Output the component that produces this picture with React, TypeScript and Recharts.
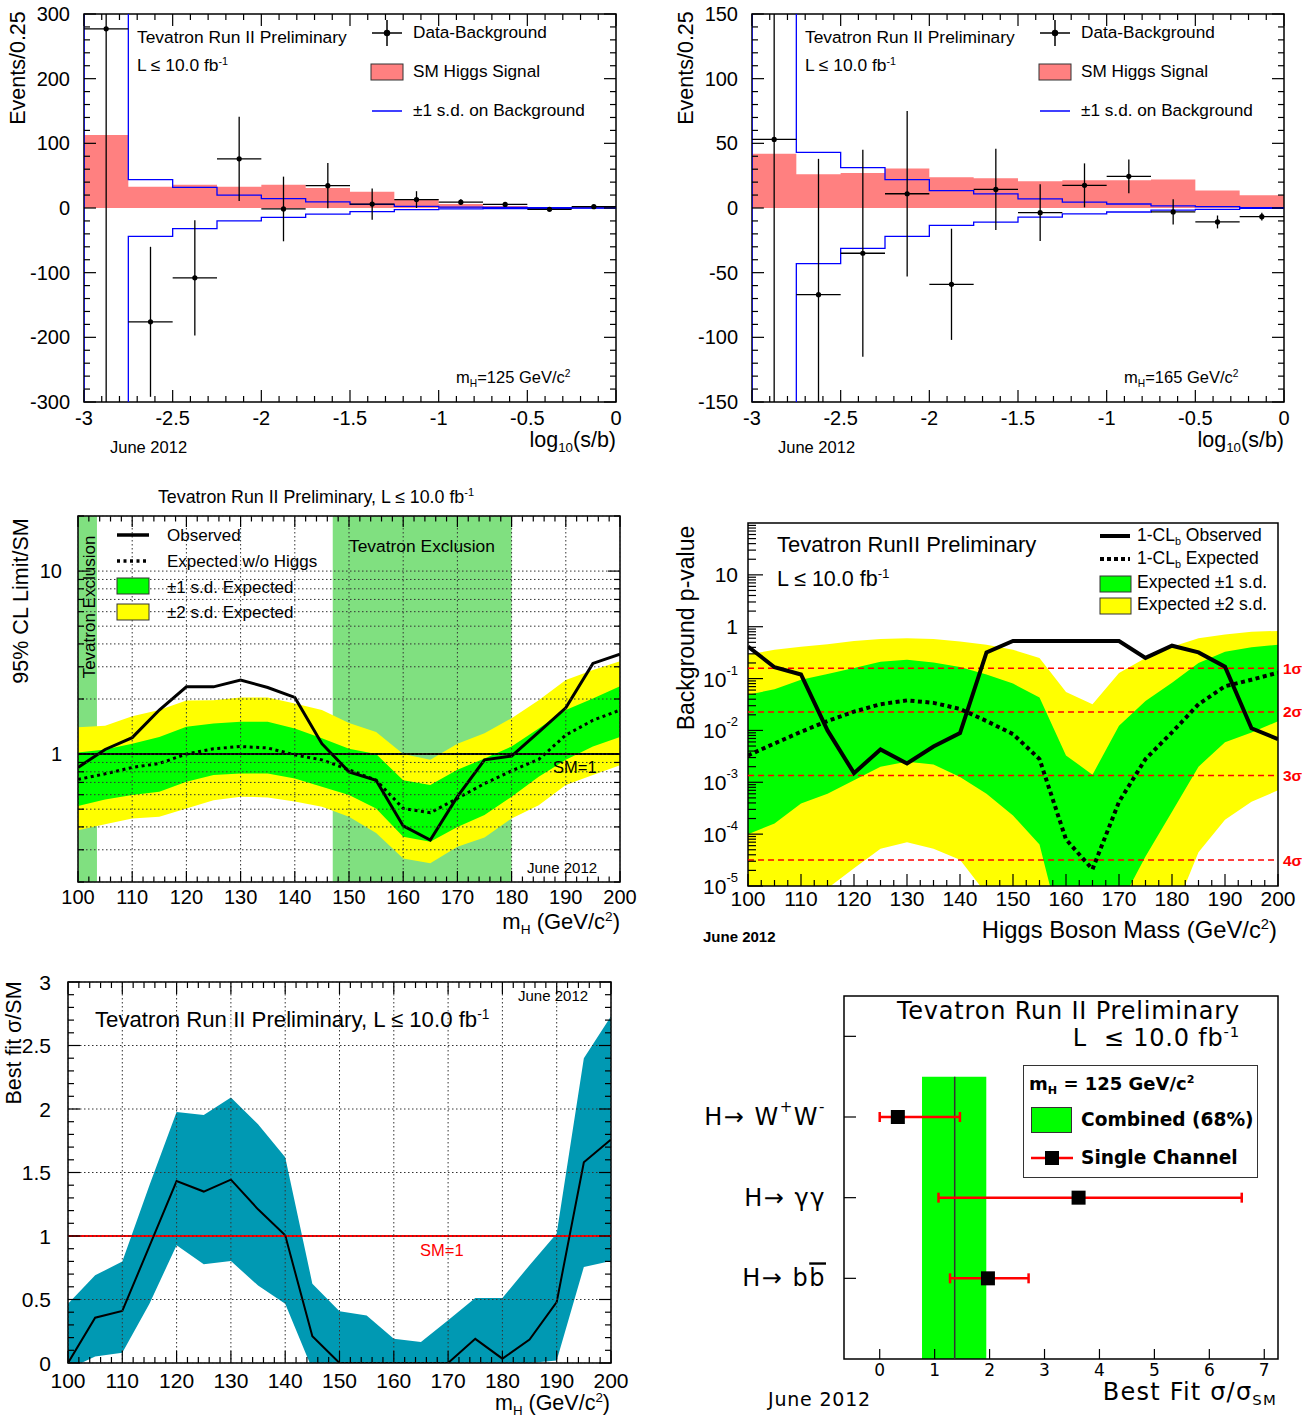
import React from 'react';
import { ComposedChart, XAxis, YAxis, Area, Line, Scatter, ErrorBar, ReferenceArea, ReferenceLine } from 'recharts';

const FONT = '"Liberation Sans", Arial, Helvetica, sans-serif';
const FONT6 = '"DejaVu Sans", Verdana, sans-serif';
const SIG = '#ff8080';
const BLUE = '#0000ff';
const GREEN = '#00ff00';
const YELLOW = '#ffff00';
const EXCL = '#80e080';
const TEAL = '#0099b3';
const RED = '#ff0000';

// ---------------- Panels 1 & 2: log10(s/b) distributions ----------------
const binLowEdges = [-3, -2.75, -2.5, -2.25, -2, -1.75, -1.5, -1.25, -1, -0.75, -0.5, -0.25];
const binUpperEnd = 0;
const binHalf = 0.125;

const sig125 = [113, 33, 36, 33, 36, 31, 25, 14, 6, 3, 1.5, 1];
const bkgSd125 = [480, 44, 32, 20, 14.5, 9.5, 5.5, 2.5, 1.3, 0.9, 0.5, 0.3];
const data125 = [277, -176, -108, 76, -1.5, 34.5, 6, 13, 9, 5.5, -2, 2];
const err125 = [650, 116, 89, 65, 50, 35, 24, 13, 4.5, 3, 2, 2];

const sig165 = [42, 26, 27, 30.6, 23.7, 23, 20.6, 21.4, 21.4, 22, 13.6, 9.8];
const bkgSd165 = [300, 43, 31.2, 22, 13.5, 10.9, 7.1, 4.6, 3.1, 1.7, 1, 0.3];
const data165 = [53, -67, -35, 11, -59, 14.4, -3.6, 17.5, 24.5, -3, -10.8, -6.7];
const err165 = [320, 105, 80, 64, 43, 31.5, 22, 17, 13, 9.7, 5, 3];

// ---------------- Mass scans ----------------
const masses = [100, 105, 110, 115, 120, 125, 130, 135, 140, 145, 150, 155, 160, 165, 170, 175, 180, 185, 190, 195, 200];

// Panel 3: 95% CL limit / SM
const obs3 = [0.845, 1.06, 1.23, 1.74, 2.33, 2.33, 2.54, 2.31, 2.04, 1.14, 0.8, 0.72, 0.405, 0.339, 0.585, 0.93, 0.975, 1.32, 1.79, 3.13, 3.52];
const exp3 = [0.727, 0.78, 0.845, 0.889, 1.0, 1.07, 1.1, 1.08, 0.99, 0.93, 0.82, 0.72, 0.505, 0.478, 0.573, 0.69, 0.81, 0.935, 1.27, 1.53, 1.74];
const p1s3 = [1.02, 1.06, 1.14, 1.24, 1.41, 1.47, 1.5, 1.5, 1.38, 1.22, 1.07, 1.0, 0.72, 0.677, 0.82, 0.946, 1.1, 1.38, 1.74, 2.01, 2.35];
const m1s3 = [0.52, 0.565, 0.597, 0.623, 0.706, 0.768, 0.784, 0.784, 0.736, 0.663, 0.597, 0.505, 0.353, 0.332, 0.4, 0.464, 0.585, 0.752, 0.93, 1.1, 1.24];
const p2s3 = [1.4, 1.43, 1.61, 1.74, 1.96, 1.97, 2.04, 2.04, 1.89, 1.74, 1.48, 1.32, 1.0, 0.93, 1.14, 1.3, 1.57, 1.97, 2.54, 2.88, 3.22];
const m2s3 = [0.384, 0.413, 0.445, 0.455, 0.505, 0.56, 0.585, 0.58, 0.55, 0.515, 0.455, 0.37, 0.269, 0.253, 0.312, 0.35, 0.445, 0.526, 0.677, 0.768, 0.87];
const exclusionRegions = [[100, 103.5], [147, 180]];

// Panel 4: background p-value
const obs4 = [0.415, 0.165, 0.12, 0.01, 0.0015, 0.0043, 0.0023, 0.0049, 0.0089, 0.32, 0.53, 0.53, 0.53, 0.53, 0.53, 0.25, 0.43, 0.32, 0.17, 0.011, 0.0068];
const exp4 = [0.0033, 0.0056, 0.0094, 0.0152, 0.023, 0.032, 0.038, 0.034, 0.026, 0.0152, 0.0085, 0.0028, 7.9e-5, 2.1e-5, 4.2e-4, 0.0028, 0.0092, 0.032, 0.071, 0.095, 0.13];
const p1s4 = [0.049, 0.062, 0.095, 0.123, 0.16, 0.21, 0.23, 0.205, 0.167, 0.12, 0.08, 0.043, 0.0033, 0.0014, 0.0123, 0.037, 0.083, 0.2, 0.33, 0.4, 0.45];
const m1s4 = [1.0e-4, 1.6e-4, 3.9e-4, 6e-4, 1.1e-3, 2.0e-3, 2.5e-3, 2.2e-3, 1.26e-3, 6e-4, 2.3e-4, 6.3e-5, 6e-7, 1e-7, 4e-6, 3.7e-5, 2.7e-4, 2e-3, 5.9e-3, 9.1e-3, 0.015];
const p2s4 = [0.29, 0.36, 0.41, 0.46, 0.53, 0.58, 0.6, 0.58, 0.52, 0.45, 0.36, 0.25, 0.055, 0.032, 0.128, 0.25, 0.41, 0.6, 0.71, 0.8, 0.83];
const m2s4 = [4e-7, 1e-6, 3e-6, 9e-6, 2.2e-5, 5.2e-5, 7e-5, 5.2e-5, 3.2e-5, 7e-6, 1e-6, 3e-7, 1e-7, 1e-7, 1e-7, 3e-7, 2.5e-6, 4.5e-5, 1.9e-4, 4.2e-4, 7e-4];
const sigmaP = [0.1587, 0.02275, 0.00135, 3.167e-5];
const sigmaLabels = ['1σ', '2σ', '3σ', '4σ'];

// Panel 5: best fit sigma/SM
const obs5 = [0, 0.357, 0.41, 0.92, 1.433, 1.35, 1.444, 1.21, 1.005, 0.21, 0, 0, 0, 0, 0, 0.19, 0.034, 0.184, 0.48, 1.58, 1.76];
const up5 = [0.467, 0.69, 0.8, 1.4, 1.976, 1.953, 2.09, 1.88, 1.62, 0.625, 0.407, 0.375, 0.19, 0.165, 0.336, 0.512, 0.512, 0.77, 1.02, 2.4, 2.73];
const lo5 = [-0.05, 0.052, 0.08, 0.467, 0.927, 0.777, 0.803, 0.61, 0.467, -0.05, 0, 0, 0, 0, 0, 0, 0, 0, 0.02, 0.756, 0.803];

// Panel 6: channel best fits at mH = 125
const channels = ['WW', 'gg', 'bb'];
const chFit = [0.33, 3.62, 1.97];
const chErrLo = [0.33, 2.55, 0.69];
const chErrHi = [1.13, 2.97, 0.74];
const combFit = 1.365;
const combLo = 0.77;
const combHi = 1.94;

// ---------------- helpers ----------------
type Geo = { L: number; T: number; W: number; H: number; x0: number; y0: number; x1: number; y1: number };
const G1: Geo = { L: 0, T: 0, W: 650, H: 470, x0: 84, y0: 14, x1: 616, y1: 402 };
const G2: Geo = { L: 650, T: 0, W: 652, H: 470, x0: 752, y0: 14, x1: 1284, y1: 402 };
const G3: Geo = { L: 0, T: 470, W: 650, H: 480, x0: 78, y0: 516, x1: 620, y1: 882 };
const G4: Geo = { L: 650, T: 470, W: 652, H: 480, x0: 748, y0: 523, x1: 1278, y1: 886 };
const G5: Geo = { L: 0, T: 950, W: 650, H: 468, x0: 68, y0: 982, x1: 611, y1: 1363 };
const G6: Geo = { L: 650, T: 950, W: 652, H: 468, x0: 844, y0: 996, x1: 1278, y1: 1359 };

const local = (g: Geo) => ({ x0: g.x0 - g.L, y0: g.y0 - g.T, x1: g.x1 - g.L, y1: g.y1 - g.T });
const marginOf = (g: Geo) => ({ top: g.y0 - g.T, right: g.L + g.W - g.x1, bottom: 0, left: 0 });

const range = (a: number, b: number, step: number) => {
  const out: number[] = [];
  const n = Math.round((b - a) / step);
  for (let i = 0; i <= n; i++) out.push(+(a + i * step).toFixed(6));
  return out;
};
const logTicks = (e0: number, e1: number, lo: number, hi: number) => {
  const out: number[] = [];
  for (let e = e0; e <= e1; e++) for (let k = 1; k <= 9; k++) {
    const v = +(k * Math.pow(10, e)).toPrecision(6);
    if (v >= lo * 0.9999 && v <= hi * 1.0001) out.push(v);
  }
  return out;
};
const near = (a: number, b: number) => Math.abs(a - b) <= 1e-9 + 1e-6 * Math.abs(b);

type TickOpt = {
  g: Geo; majors: number[]; majLen: number; minLen: number; both?: boolean;
  grid?: 'major' | 'all' | false; label?: (v: number) => React.ReactNode;
  size: number; off: number; family?: string; spacing?: number;
};
const GRID = { stroke: '#333', strokeWidth: 1, strokeDasharray: '1.5 2.5' };

function xTick(o: TickOpt) {
  const p = local(o.g);
  return (props: any) => {
    const x = props.x;
    const v = props.payload?.value;
    const maj = o.majors.some((m) => near(v, m));
    const len = maj ? o.majLen : o.minLen;
    const showGrid = o.grid === 'all' || (o.grid === 'major' && maj);
    return (
      <g>
        {showGrid && <line x1={x} x2={x} y1={p.y0} y2={p.y1} {...GRID} />}
        <line x1={x} x2={x} y1={p.y1} y2={p.y1 - len} stroke="#000" strokeWidth={1.2} />
        {o.both && <line x1={x} x2={x} y1={p.y0} y2={p.y0 + len} stroke="#000" strokeWidth={1.2} />}
        {maj && o.label && (
          <text x={x} y={p.y1 + o.off} textAnchor="middle" dominantBaseline="central" fontSize={o.size} fontFamily={o.family || FONT} fill="#000">
            {o.label(v)}
          </text>
        )}
      </g>
    );
  };
}
function yTick(o: TickOpt) {
  const p = local(o.g);
  return (props: any) => {
    const y = props.y;
    const v = props.payload?.value;
    const maj = o.majors.some((m) => near(v, m));
    const len = maj ? o.majLen : o.minLen;
    const showGrid = o.grid === 'all' || (o.grid === 'major' && maj);
    return (
      <g>
        {showGrid && <line x1={p.x0} x2={p.x1} y1={y} y2={y} {...GRID} />}
        <line x1={p.x0} x2={p.x0 + len} y1={y} y2={y} stroke="#000" strokeWidth={1.2} />
        {o.both && <line x1={p.x1} x2={p.x1 - len} y1={y} y2={y} stroke="#000" strokeWidth={1.2} />}
        {maj && o.label && (
          <text x={p.x0 - o.off} y={y} textAnchor="end" dominantBaseline="central" fontSize={o.size} fontFamily={o.family || FONT}
            fill="#000" letterSpacing={o.spacing || 0}>
            {o.label(v)}
          </text>
        )}
      </g>
    );
  };
}

function Txt({ x, y, children, size = 17, anchor = 'start', color = '#000', weight = 400, family = FONT, rotate = false, spacing = 0 }: any) {
  const tx = anchor === 'start' ? '0' : anchor === 'end' ? '-100%' : '-50%';
  return (
    <div
      style={{
        position: 'absolute', left: x, top: y,
        transform: rotate ? 'translate(-50%,-50%) rotate(-90deg)' : `translate(${tx},-50%)`,
        fontSize: size, fontFamily: family, color, fontWeight: weight, whiteSpace: 'nowrap', lineHeight: 1,
        letterSpacing: spacing,
      }}
    >
      {children}
    </div>
  );
}
const Sup = ({ children }: any) => <span style={{ fontSize: '0.62em', position: 'relative', top: '-0.6em' }}>{children}</span>;
const Sub = ({ children }: any) => <span style={{ fontSize: '0.62em', position: 'relative', top: '0.35em' }}>{children}</span>;

const Frame = ({ x, y }: { x: number[]; y: number[] }) => (
  <ReferenceArea x1={x[0]} x2={x[1]} y1={y[0]} y2={y[1]} fill="none" fillOpacity={0} stroke="#000" strokeWidth={1.5} ifOverflow="visible" />
);

const numLabel = (v: number) => String(v);

// ---------------- Panels ----------------
function HistPanel({ g, ylim, yMajorStep, yMinorStep, sig, sd, dat, err, mass }: any) {
  const dx = g.x0 - 84;
  const sigArea = [...binLowEdges.map((x, i) => ({ x, v: sig[i] })), { x: binUpperEnd, v: sig[sig.length - 1] }];
  const band = (s: number) => [
    { x: binLowEdges[0], v: 0 },
    ...binLowEdges.map((x, i) => ({ x, v: s * sd[i] })),
    { x: binUpperEnd, v: s * sd[sd.length - 1] },
  ];
  const pts = binLowEdges.map((x, i) => ({
    x: x + binHalf, y: dat[i], ex: binHalf,
    ey: [Math.min(err[i], dat[i] - ylim[0]), Math.min(err[i], ylim[1] - dat[i])],
  }));
  const xt = range(-3, 0, 0.1);
  const xMaj = range(-3, 0, 0.5);
  const yt = range(ylim[0], ylim[1], yMinorStep);
  const yMaj = range(ylim[0], ylim[1], yMajorStep);
  return (
    <>
      <div style={{ position: 'absolute', left: g.L, top: g.T }}>
        <ComposedChart width={g.W} height={g.H} margin={marginOf(g)}>
          <Area data={sigArea} dataKey="v" type="stepAfter" fill={SIG} fillOpacity={1} stroke="none" baseValue={0} isAnimationActive={false} />
          <Line data={band(1)} dataKey="v" type="stepAfter" stroke={BLUE} strokeWidth={1.3} dot={false} isAnimationActive={false} />
          <Line data={band(-1)} dataKey="v" type="stepAfter" stroke={BLUE} strokeWidth={1.3} dot={false} isAnimationActive={false} />
          <Scatter data={pts} dataKey="y" isAnimationActive={false} shape={(p: any) => <circle cx={p.cx} cy={p.cy} r={2.6} fill="#000" />}>
            <ErrorBar dataKey="ey" direction="y" width={0} stroke="#000" strokeWidth={1.3} />
            <ErrorBar dataKey="ex" direction="x" width={0} stroke="#000" strokeWidth={1.3} />
          </Scatter>
          {Frame({ x: [-3, 0], y: ylim })}
          <XAxis dataKey="x" type="number" domain={[-3, 0]} allowDataOverflow ticks={xt} interval={0} axisLine={false} tickLine={false}
            height={g.T + g.H - g.y1}
            tick={xTick({ g, majors: xMaj, majLen: 12, minLen: 6, both: true, label: numLabel, size: 20, off: 16 })} />
          <YAxis type="number" domain={ylim} allowDataOverflow ticks={yt} interval={0} axisLine={false} tickLine={false}
            width={g.x0 - g.L}
            tick={yTick({ g, majors: yMaj, majLen: 12, minLen: 6, both: true, label: numLabel, size: 20, off: 14 })} />
        </ComposedChart>
      </div>
      <Txt x={19 + dx} y={68} size={21.5} rotate>Events/0.25</Txt>
      <Txt x={g.x1} y={441} size={21.5} anchor="end">log<Sub>10</Sub>(s/b)</Txt>
      <Txt x={110 + dx} y={447} size={16.5}>June 2012</Txt>
      <Txt x={137 + dx} y={38} size={17.4}>Tevatron Run II Preliminary</Txt>
      <Txt x={137 + dx} y={66} size={17.4}>L ≤ 10.0 fb<Sup>-1</Sup></Txt>
      <Txt x={413 + dx} y={33} size={17.2}>Data-Background</Txt>
      <Txt x={413 + dx} y={72} size={17.2}>SM Higgs Signal</Txt>
      <Txt x={413 + dx} y={111} size={17.2}>±1 s.d. on Background</Txt>
      <Txt x={456 + dx} y={377} size={16.5}>m<Sub>H</Sub>={mass} GeV/c<Sup>2</Sup></Txt>
      <svg style={{ position: 'absolute', left: 0, top: 0, pointerEvents: 'none' }} width={1302} height={470}>
        <line x1={372 + dx} x2={402 + dx} y1={33} y2={33} stroke="#000" strokeWidth={1.5} />
        <line x1={387 + dx} x2={387 + dx} y1={20} y2={46} stroke="#000" strokeWidth={1.5} />
        <circle cx={387 + dx} cy={33} r={3.2} fill="#000" />
        <rect x={371 + dx} y={64} width={32} height={16} fill={SIG} stroke="#333" strokeWidth={1} />
        <line x1={372 + dx} x2={402 + dx} y1={111} y2={111} stroke={BLUE} strokeWidth={1.5} />
      </svg>
    </>
  );
}

function LimitPanel() {
  const g = G3;
  const rows = masses.map((x, i) => ({ x, obs: obs3[i], exp: exp3[i], b1: [m1s3[i], p1s3[i]], b2: [m2s3[i], p2s3[i]] }));
  const ylim = [0.2, 20];
  const yt = logTicks(-1, 1, 0.2, 20);
  return (
    <>
      <div style={{ position: 'absolute', left: g.L, top: g.T }}>
        <ComposedChart width={g.W} height={g.H} margin={marginOf(g)}>
          {exclusionRegions.map((r, i) => (
            <ReferenceArea key={i} x1={r[0]} x2={r[1]} y1={ylim[0]} y2={ylim[1]} fill={EXCL} fillOpacity={1} stroke="none" ifOverflow="visible" />
          ))}
          <Area data={rows} dataKey="b2" type="linear" fill={YELLOW} fillOpacity={1} stroke="none" isAnimationActive={false} />
          <Area data={rows} dataKey="b1" type="linear" fill={GREEN} fillOpacity={1} stroke="none" isAnimationActive={false} />
          <ReferenceLine y={1} stroke="#000" strokeWidth={2} />
          <Line data={rows} dataKey="exp" type="linear" stroke="#000" strokeWidth={3} strokeDasharray="3 3.5" dot={false} isAnimationActive={false} />
          <Line data={rows} dataKey="obs" type="linear" stroke="#000" strokeWidth={3} dot={false} isAnimationActive={false} />
          {Frame({ x: [100, 200], y: ylim })}
          <XAxis dataKey="x" type="number" domain={[100, 200]} allowDataOverflow ticks={range(100, 200, 2)} interval={0} axisLine={false} tickLine={false}
            height={g.T + g.H - g.y1}
            tick={xTick({ g, majors: range(100, 200, 10), majLen: 11, minLen: 5.5, both: true, grid: 'major', label: numLabel, size: 20, off: 15 })} />
          <YAxis type="number" scale="log" domain={ylim} allowDataOverflow ticks={yt} interval={0} axisLine={false} tickLine={false}
            width={g.x0 - g.L}
            tick={yTick({ g, majors: [1, 10], majLen: 12, minLen: 6, both: true, grid: 'all', label: numLabel, size: 20, off: 16 })} />
        </ComposedChart>
      </div>
      <Txt x={316} y={498} size={17.8} anchor="middle">Tevatron Run II Preliminary, L ≤ 10.0 fb<Sup>-1</Sup></Txt>
      <Txt x={22} y={601} size={21.5} rotate>95% CL Limit/SM</Txt>
      <Txt x={620} y={922} size={22} anchor="end">m<Sub>H</Sub> (GeV/c<Sup>2</Sup>)</Txt>
      <Txt x={167} y={535} size={17}>Observed</Txt>
      <Txt x={167} y={561} size={17}>Expected w/o Higgs</Txt>
      <Txt x={167} y={587} size={17}>±1 s.d. Expected</Txt>
      <Txt x={167} y={612} size={17}>±2 s.d. Expected</Txt>
      <Txt x={349} y={547} size={17.4}>Tevatron Exclusion</Txt>
      <Txt x={89} y={607} size={17} rotate>Tevatron Exclusion</Txt>
      <Txt x={553} y={767} size={16.5}>SM=1</Txt>
      <Txt x={527} y={867} size={15}>June 2012</Txt>
      <svg style={{ position: 'absolute', left: 0, top: 470, pointerEvents: 'none' }} width={650} height={480}>
        <line x1={117} x2={149} y1={65} y2={65} stroke="#000" strokeWidth={3.5} />
        <line x1={117} x2={149} y1={91} y2={91} stroke="#000" strokeWidth={3.5} strokeDasharray="3 3.5" />
        <rect x={117} y={108} width={32} height={16} fill={GREEN} stroke="#333" strokeWidth={1} />
        <rect x={117} y={134} width={32} height={16} fill={YELLOW} stroke="#333" strokeWidth={1} />
      </svg>
    </>
  );
}

const powLabel = (v: number) => {
  const e = Math.round(Math.log10(v));
  if (e === 0) return '1';
  if (e === 1) return '10';
  return (
    <>
      <tspan>10</tspan>
      <tspan dy={-9} fontSize={13}>{String(e)}</tspan>
    </>
  );
};

function PValuePanel() {
  const g = G4;
  const rows = masses.map((x, i) => ({ x, obs: obs4[i], exp: exp4[i], b1: [m1s4[i], p1s4[i]], b2: [m2s4[i], p2s4[i]] }));
  const ylim = [1e-5, 100];
  const yt = logTicks(-5, 1, 1e-5, 100);
  const yMaj = [1e-5, 1e-4, 1e-3, 1e-2, 1e-1, 1, 10];
  return (
    <>
      <div style={{ position: 'absolute', left: g.L, top: g.T }}>
        <ComposedChart width={g.W} height={g.H} margin={marginOf(g)}>
          <Area data={rows} dataKey="b2" type="linear" fill={YELLOW} fillOpacity={1} stroke="none" isAnimationActive={false} />
          <Area data={rows} dataKey="b1" type="linear" fill={GREEN} fillOpacity={1} stroke="none" isAnimationActive={false} />
          {sigmaP.map((p, i) => (
            <ReferenceLine key={i} y={p} stroke={RED} strokeWidth={1.5} strokeDasharray="6 4"
              label={{ value: sigmaLabels[i], position: 'right', fill: RED, fontSize: 15.5, fontWeight: 700, fontFamily: FONT, offset: 5 }} />
          ))}
          <Line data={rows} dataKey="exp" type="linear" stroke="#000" strokeWidth={4} strokeDasharray="4 3.5" dot={false} isAnimationActive={false} />
          <Line data={rows} dataKey="obs" type="linear" stroke="#000" strokeWidth={4} dot={false} isAnimationActive={false} />
          {Frame({ x: [100, 200], y: ylim })}
          <XAxis dataKey="x" type="number" domain={[100, 200]} allowDataOverflow ticks={range(100, 200, 2.5)} interval={0} axisLine={false} tickLine={false}
            height={g.T + g.H - g.y1}
            tick={xTick({ g, majors: range(100, 200, 10), majLen: 12, minLen: 6, label: numLabel, size: 21, off: 12 })} />
          <YAxis type="number" scale="log" domain={ylim} allowDataOverflow ticks={yt} interval={0} axisLine={false} tickLine={false}
            width={g.x0 - g.L}
            tick={yTick({ g, majors: yMaj, majLen: 15, minLen: 8, label: powLabel, size: 21, off: 10 })} />
        </ComposedChart>
      </div>
      <Txt x={686} y={628} size={23} rotate>Background p-value</Txt>
      <Txt x={1277} y={930} size={23.8} anchor="end">Higgs Boson Mass (GeV/c<Sup>2</Sup>)</Txt>
      <Txt x={703} y={936} size={15} weight={700}>June 2012</Txt>
      <Txt x={777} y={545} size={22}>Tevatron RunII Preliminary</Txt>
      <Txt x={777} y={580} size={21.5}>L ≤ 10.0 fb<Sup>-1</Sup></Txt>
      <Txt x={1137} y={536} size={17.5}>1-CL<Sub>b</Sub> Observed</Txt>
      <Txt x={1137} y={559} size={17.5}>1-CL<Sub>b</Sub> Expected</Txt>
      <Txt x={1137} y={583} size={17.5}>Expected ±1 s.d.</Txt>
      <Txt x={1137} y={605} size={17.5}>Expected ±2 s.d.</Txt>
      <svg style={{ position: 'absolute', left: 650, top: 470, pointerEvents: 'none' }} width={652} height={480}>
        <line x1={450} x2={480} y1={66} y2={66} stroke="#000" strokeWidth={4} />
        <line x1={450} x2={480} y1={89} y2={89} stroke="#000" strokeWidth={4} strokeDasharray="4 3" />
        <rect x={450} y={106} width={31} height={16} fill={GREEN} stroke="#333" strokeWidth={1} />
        <rect x={450} y={128} width={31} height={16} fill={YELLOW} stroke="#333" strokeWidth={1} />
      </svg>
    </>
  );
}

function BestFitPanel() {
  const g = G5;
  const rows = masses.map((x, i) => ({ x, obs: obs5[i], band: [lo5[i], up5[i]] }));
  const ylim = [0, 3];
  return (
    <>
      <div style={{ position: 'absolute', left: g.L, top: g.T }}>
        <ComposedChart width={g.W} height={g.H} margin={marginOf(g)}>
          <Area data={rows} dataKey="band" type="linear" fill={TEAL} fillOpacity={1} stroke="none" isAnimationActive={false} />
          <ReferenceLine y={1} stroke={RED} strokeWidth={2} />
          <Line data={rows} dataKey="obs" type="linear" stroke="#000" strokeWidth={2} dot={false} isAnimationActive={false} />
          {Frame({ x: [100, 200], y: ylim })}
          <XAxis dataKey="x" type="number" domain={[100, 200]} allowDataOverflow ticks={range(100, 200, 2)} interval={0} axisLine={false} tickLine={false}
            height={g.T + g.H - g.y1}
            tick={xTick({ g, majors: range(100, 200, 10), majLen: 12, minLen: 6, both: true, grid: 'major', label: numLabel, size: 21, off: 17 })} />
          <YAxis type="number" domain={ylim} allowDataOverflow ticks={range(0, 3, 0.1)} interval={0} axisLine={false} tickLine={false}
            width={g.x0 - g.L}
            tick={yTick({ g, majors: range(0, 3, 0.5), majLen: 12, minLen: 6, both: true, grid: 'major', label: numLabel, size: 21, off: 17 })} />
        </ComposedChart>
      </div>
      <Txt x={15} y={1043} size={21.5} rotate>Best fit σ/SM</Txt>
      <Txt x={610} y={1404} size={21.5} anchor="end">m<Sub>H</Sub> (GeV/c<Sup>2</Sup>)</Txt>
      <Txt x={518} y={995} size={15}>June 2012</Txt>
      <Txt x={95} y={1020} size={22.2}>Tevatron Run II Preliminary, L ≤ 10.0 fb<Sup>-1</Sup></Txt>
      <Txt x={420} y={1250} size={16.5} color={RED}>SM=1</Txt>
    </>
  );
}

const chLabel = (name: string) => {
  if (name === 'WW') return (<><tspan>H→ W</tspan><tspan dy={-10} fontSize={15}>+</tspan><tspan dy={10}>W</tspan><tspan dy={-10} fontSize={15}>-</tspan></>);
  if (name === 'gg') return 'H→ γγ';
  return (<><tspan>H→ b</tspan><tspan style={{ textDecoration: 'overline' }}>b</tspan></>);
};

function ChannelPanel() {
  const g = G6;
  const n = channels.length;
  const pts = channels.map((c, i) => ({ x: chFit[i], y: n - i, err: [chErrLo[i], chErrHi[i]] }));
  const ylim = [0, n + 1.5];
  const xlim = [-0.65, 7.25];
  const yTicksAll = range(1, n + 1, 1);
  const labelFor = (v: number) => {
    const idx = n - Math.round(v);
    return idx >= 0 && idx < n ? chLabel(channels[idx]) : '';
  };
  return (
    <>
      <div style={{ position: 'absolute', left: g.L, top: g.T }}>
        <ComposedChart width={g.W} height={g.H} margin={marginOf(g)}>
          <ReferenceArea x1={combLo} x2={combHi} y1={0} y2={n + 0.5} fill={GREEN} fillOpacity={1} stroke="none" ifOverflow="visible" />
          <ReferenceLine segment={[{ x: combFit, y: 0 }, { x: combFit, y: n + 0.5 }]} stroke="#333" strokeWidth={1.5} />
          <Scatter data={pts} dataKey="y" isAnimationActive={false} shape={(p: any) => <rect x={p.cx - 7} y={p.cy - 7} width={14} height={14} fill="#000" />}>
            <ErrorBar dataKey="err" direction="x" width={5} stroke={RED} strokeWidth={2.5} />
          </Scatter>
          {Frame({ x: xlim, y: ylim })}
          <XAxis dataKey="x" type="number" domain={xlim} allowDataOverflow ticks={range(0, 7, 1)} interval={0} axisLine={false} tickLine={false}
            height={g.T + g.H - g.y1}
            tick={xTick({ g, majors: range(0, 7, 1), majLen: 10, minLen: 10, label: numLabel, size: 17, off: 11, family: FONT6 })} />
          <YAxis type="number" domain={ylim} allowDataOverflow ticks={yTicksAll} interval={0} axisLine={false} tickLine={false}
            width={g.x0 - g.L}
            tick={yTick({ g, majors: yTicksAll, majLen: 12, minLen: 12, label: labelFor, size: 24, off: 18, family: FONT6, spacing: 1.5 })} />
        </ComposedChart>
      </div>
      <Txt x={1240} y={1011} size={24} anchor="end" family={FONT6} spacing={0.8}>Tevatron Run II Preliminary</Txt>
      <Txt x={1240} y={1038} size={24} anchor="end" family={FONT6} spacing={0.8}>L &nbsp;≤ 10.0 fb<Sup>-1</Sup></Txt>
      <Txt x={1277} y={1392} size={24} anchor="end" family={FONT6} spacing={1.2}>Best Fit σ/σ<Sub>SM</Sub></Txt>
      <Txt x={768} y={1399} size={19} family={FONT6} spacing={0.8}>June 2012</Txt>
      <div style={{ position: 'absolute', left: 1023, top: 1065, width: 235, height: 113, border: '1.5px solid #333', background: '#fff', boxSizing: 'border-box' }} />
      <Txt x={1029} y={1084} size={18} weight={700} family={FONT6}>m<Sub>H</Sub> = 125 GeV/c<Sup>2</Sup></Txt>
      <div style={{ position: 'absolute', left: 1031, top: 1107, width: 41, height: 26, background: GREEN, border: '1px solid #333', boxSizing: 'border-box' }} />
      <Txt x={1081} y={1120} size={18.6} weight={700} family={FONT6}>Combined (68%)</Txt>
      <svg style={{ position: 'absolute', left: 1031, top: 1150, pointerEvents: 'none' }} width={42} height={16}>
        <line x1={0} x2={42} y1={8} y2={8} stroke={RED} strokeWidth={2.5} />
        <rect x={14} y={1} width={14} height={14} fill="#000" />
      </svg>
      <Txt x={1081} y={1158} size={18.6} weight={700} family={FONT6}>Single Channel</Txt>
    </>
  );
}

export default function App() {
  return (
    <div style={{ position: 'absolute', left: 0, top: 0, width: 1302, height: 1418, background: '#fff', overflow: 'hidden', fontFamily: FONT }}>
      <HistPanel g={G1} ylim={[-300, 300]} yMajorStep={100} yMinorStep={20} sig={sig125} sd={bkgSd125} dat={data125} err={err125} mass={125} />
      <HistPanel g={G2} ylim={[-150, 150]} yMajorStep={50} yMinorStep={10} sig={sig165} sd={bkgSd165} dat={data165} err={err165} mass={165} />
      <LimitPanel />
      <PValuePanel />
      <BestFitPanel />
      <ChannelPanel />
    </div>
  );
}
